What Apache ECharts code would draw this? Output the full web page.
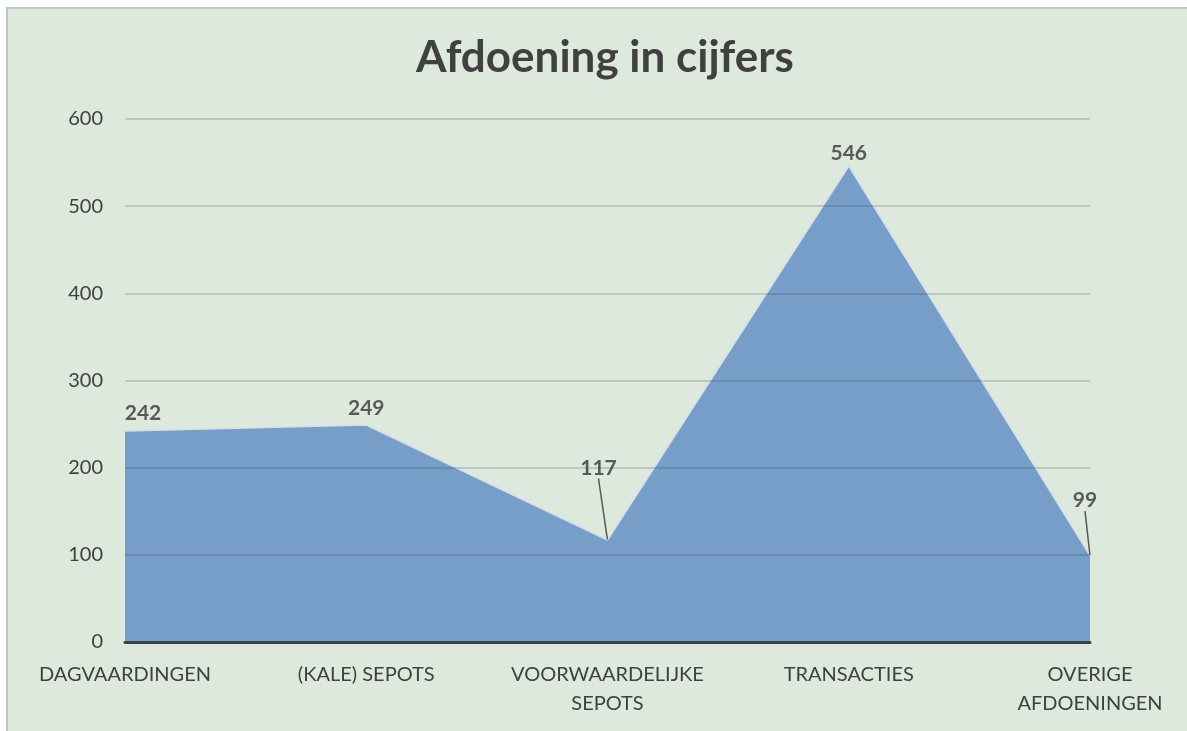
<!DOCTYPE html>
<html>
<head>
<meta charset="utf-8">
<title>Afdoening in cijfers</title>
<script src="https://cdn.jsdelivr.net/npm/echarts@6/dist/echarts.min.js"></script>
<style>
  html, body { margin: 0; padding: 0; background: #fff; }
  #frame {
    position: absolute; left: 6px; top: 7px; width: 1181px; height: 724px;
    background: #dde9dd; border-left: 2px solid #c4c4c4; border-top: 2px solid #c4c4c4;
    box-sizing: border-box;
  }
  #chart { position: absolute; left: 0; top: 0; width: 1187px; height: 731px; }
</style>
</head>
<body>
<div id="frame"></div>
<div id="chart"></div>
<script>
// categorieen en aantallen
const categories = ['DAGVAARDINGEN', '(KALE) SEPOTS', 'VOORWAARDELIJKE\nSEPOTS', 'TRANSACTIES', 'OVERIGE\nAFDOENINGEN'];
const values = [242, 249, 117, 546, 99];
const yTicks = [0, 100, 200, 300, 400, 500, 600];

// label verschuiving en verbindingslijntjes per punt
const labelShift = [[18, -1], [0, 0], [-9, -55], [0, 4], [-5, -38]];
const leaderLine = [false, false, true, false, true];

const fontFamily = 'Lato, "Open Sans", sans-serif';
const chart = echarts.init(document.getElementById('chart'));

const seriesData = values.map((v, i) => ({
    value: v,
    labelLine: { show: leaderLine[i] }
}));

const option = {
    backgroundColor: 'transparent',
    textStyle: { fontFamily: fontFamily },
    title: {
        text: 'Afdoening in cijfers',
        left: 600,
        textAlign: 'center',
        top: 31,
        textStyle: { fontSize: 44, fontWeight: 'bold', color: '#404040', fontFamily: fontFamily }
    },
    grid: { left: 125, right: 97, top: 119, bottom: 89 },
    xAxis: {
        type: 'category',
        data: categories,
        boundaryGap: false,
        axisLine: { show: true, lineStyle: { color: '#404040', width: 3 } },
        axisTick: { show: false },
        axisLabel: { color: '#404040', fontSize: 20, margin: 18, lineHeight: 29, interval: 0, fontFamily: fontFamily },
        z: 3
    },
    yAxis: {
        type: 'value',
        min: yTicks[0],
        max: yTicks[yTicks.length - 1],
        interval: 100,
        axisLine: { show: false },
        axisTick: { show: false },
        axisLabel: { color: '#404040', fontSize: 20, margin: 22, fontFamily: fontFamily },
        splitLine: { lineStyle: { color: 'rgba(40,50,40,0.24)', width: 1.5 } },
        z: 3
    },
    series: [{
        type: 'line',
        data: seriesData,
        symbol: 'circle',
        symbolSize: 1,
        showSymbol: true,
        itemStyle: { color: 'rgba(0,0,0,0)', borderWidth: 0 },
        lineStyle: { color: '#cfe0f3', width: 1.5 },
        areaStyle: { color: '#779ec9', opacity: 1 },
        label: {
            show: true,
            position: 'top',
            distance: 6,
            fontSize: 21,
            fontWeight: 'bold',
            color: '#595959',
            fontFamily: fontFamily
        },
        labelLine: { lineStyle: { color: '#595959', width: 1.5 } },
        labelLayout: function (params) {
            const s = labelShift[params.dataIndex];
            return { dx: s[0], dy: s[1] };
        },
        emphasis: { disabled: true },
        z: 2
    }]
};

chart.setOption(option);
</script>
</body>
</html>
